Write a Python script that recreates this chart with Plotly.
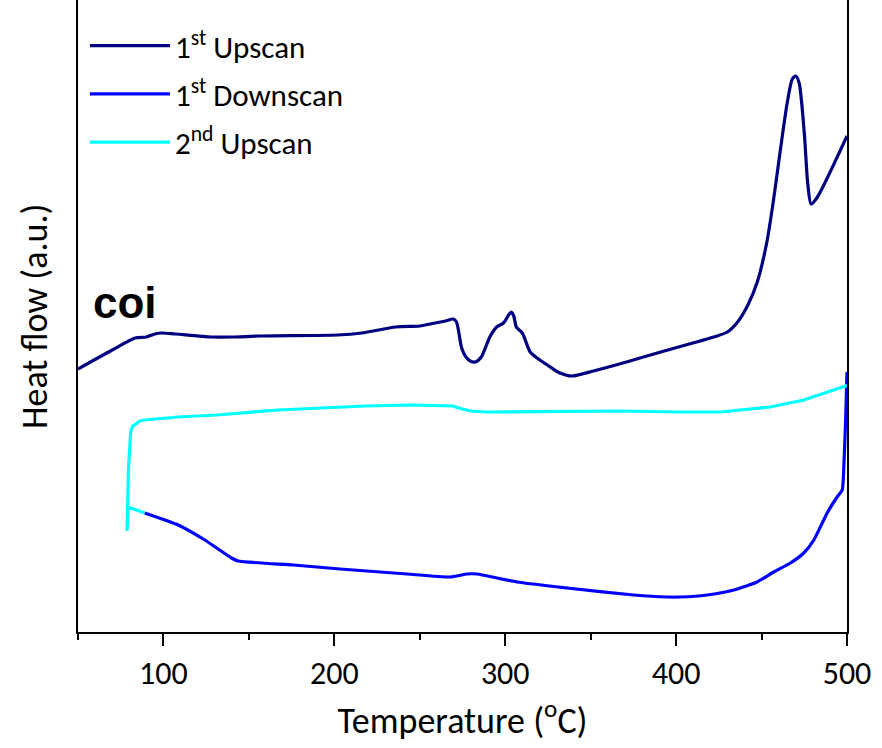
import plotly.graph_objects as go

# ---- data (heat flow in arbitrary units) ----
up1_T = [50, 70, 83.4, 90, 95, 99, 107, 128, 140, 157, 202, 216, 236, 250, 259, 265, 269.6, 271.5,
         274.5, 277, 279.5, 282.5, 286, 291, 295, 299, 302, 303.5, 305, 306.5, 310, 314.6, 318.6,
         324.6, 332, 339, 351.6, 371, 391, 422, 430, 436, 442, 447.5, 453, 457, 461, 465, 468, 470,
         472, 475, 477, 479, 482.7, 500]
up1_H = [26.3, 28.2, 29.4, 29.5, 29.8, 29.9, 29.8, 29.5, 29.5, 29.6, 29.7, 29.9, 30.5, 30.6, 30.9, 31.1, 31.3, 31.0,
         28.4, 27.5, 27.1, 27.0, 27.5, 29.5, 30.5, 30.9, 31.7, 32.0, 31.6, 30.5, 29.9, 28.0, 27.4,
         26.7, 25.9, 25.6, 26.1, 27.0, 28.0, 29.5, 30.0, 31.0, 32.7, 35.0, 38.9, 43.2, 48.2, 52.9, 55.3, 55.6,
         54.9, 49.9, 44.9, 42.8, 43.5, 49.6]

down1_T = [500, 499.2, 498.3, 497.2, 494.2, 488.4, 480.6, 474.7, 466.9, 457.1, 447.4, 433.7, 418, 402.5,
           394.7, 375.2, 336.2, 306.9, 283.5, 277.6, 267.8, 242.5, 203.4, 176.1, 143.7, 139.8, 124.2,
           108.6, 89.0]
down1_H = [26.0, 21.2, 17.2, 14.2, 13.5, 11.9, 9.2, 7.9, 6.9, 6.0, 5.0, 4.2, 3.7, 3.5,
           3.5, 3.7, 4.4, 5.0, 5.8, 5.8, 5.5, 5.8, 6.3, 6.7, 7.1, 7.4, 9.2,
           10.7, 11.9]

up2_T = [89.0, 79.3, 78.7, 78.9, 79.5, 80.2, 80.8, 82, 83.2, 86, 89, 108.6, 131, 167, 218, 245, 265,
         269.6, 272.7, 279.5, 289, 367, 402.5, 426, 455, 474.7, 499.1, 500]
up2_H = [11.9, 12.5, 10.1, 12.7, 16.2, 18.2, 20.0, 20.6, 20.7, 21.1, 21.2, 21.5, 21.7, 22.2, 22.6, 22.7, 22.6,
         22.6, 22.4, 22.1, 22.0, 22.1, 22.0, 22.0, 22.5, 23.2, 24.6, 24.7]

names = ["1<sup>st</sup> Upscan", "1<sup>st</sup> Downscan", "2<sup>nd</sup> Upscan"]
colors = ["#000080", "#0000FF", "#00FFFF"]
smooth = [0.7, 0.5, 0.0]

FONT = "Carlito, Calibri, Lato, 'Open Sans', sans-serif"

fig = go.Figure()
for i, (xs, ys) in enumerate([(up1_T, up1_H), (down1_T, down1_H), (up2_T, up2_H)]):
    line = dict(color=colors[i], width=3.2)
    if smooth[i] > 0:
        line.update(shape="spline", smoothing=smooth[i])
    fig.add_trace(go.Scatter(x=xs, y=ys, mode="lines", name=names[i], legendgroup=f"g{i}", line=line))

fig.update_layout(
    width=882, height=748,
    margin=dict(l=78, r=35, t=0, b=116),
    paper_bgcolor="white", plot_bgcolor="white",
    showlegend=True,
    legend=dict(x=0.009, y=0.97, xanchor="left", yanchor="top", bgcolor="rgba(0,0,0,0)",
                font=dict(family=FONT, size=31, color="black"), itemwidth=80, tracegroupgap=5),
    xaxis=dict(range=[50, 500], dtick=100, tick0=0, showgrid=False, zeroline=False,
               showline=True, linecolor="black", linewidth=2, mirror=False,
               ticks="outside", ticklen=12, tickwidth=2, tickcolor="black",
               minor=dict(dtick=50, tick0=0, ticks="outside", ticklen=6, tickwidth=2, tickcolor="black"),
               tickfont=dict(family=FONT, size=32, color="black"),
               title=dict(text="Temperature (<sup>o</sup>C)", font=dict(family=FONT, size=36, color="black"),
                          standoff=14)),
    yaxis=dict(range=[0, 63.2], showgrid=False, zeroline=False, showticklabels=False, ticks="",
               showline=True, linecolor="black", linewidth=2, mirror=True),
    annotations=[
        dict(text="Heat flow (a.u.)", xref="paper", yref="paper", x=-0.056, y=0.5, textangle=-90,
             showarrow=False, xanchor="center", yanchor="middle",
             font=dict(family=FONT, size=36, color="black")),
        dict(text="<b>coi</b>", xref="paper", yref="paper", x=0.017, y=0.522, showarrow=False,
             xanchor="left", yanchor="middle",
             font=dict(family="Liberation Sans, Arial, sans-serif", size=44, color="black")),
    ],
)

fig.write_html("out.html")
